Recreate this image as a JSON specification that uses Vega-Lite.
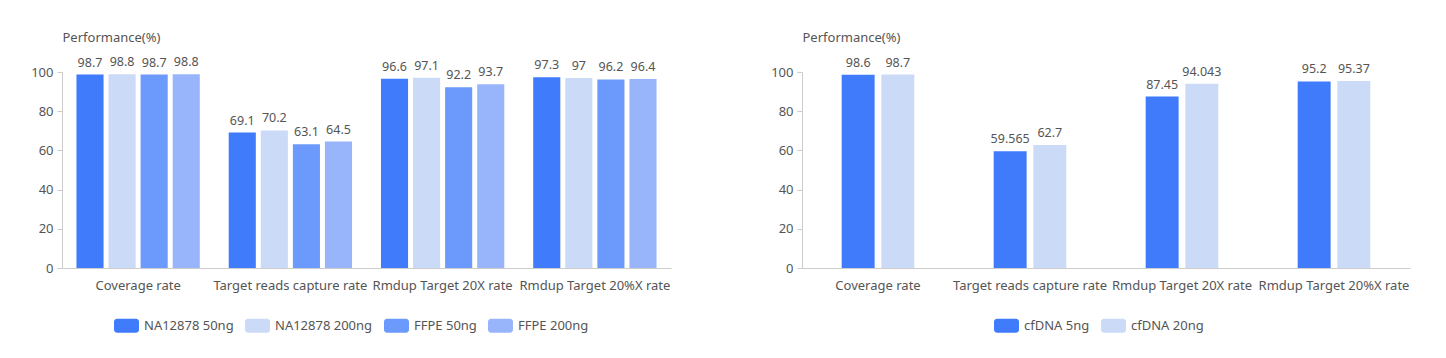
{
  "$schema": "https://vega.github.io/schema/vega-lite/v6.json",
  "background": "white",
  "padding": {"left": 30, "top": 31, "right": 5, "bottom": 5},
  "datasets": {
    "left": [
      {"metric": "Coverage rate", "sample": "NA12878 50ng", "value": 98.7},
      {"metric": "Coverage rate", "sample": "NA12878 200ng", "value": 98.8},
      {"metric": "Coverage rate", "sample": "FFPE 50ng", "value": 98.7},
      {"metric": "Coverage rate", "sample": "FFPE 200ng", "value": 98.8},
      {"metric": "Target reads capture rate", "sample": "NA12878 50ng", "value": 69.1},
      {"metric": "Target reads capture rate", "sample": "NA12878 200ng", "value": 70.2},
      {"metric": "Target reads capture rate", "sample": "FFPE 50ng", "value": 63.1},
      {"metric": "Target reads capture rate", "sample": "FFPE 200ng", "value": 64.5},
      {"metric": "Rmdup Target 20X rate", "sample": "NA12878 50ng", "value": 96.6},
      {"metric": "Rmdup Target 20X rate", "sample": "NA12878 200ng", "value": 97.1},
      {"metric": "Rmdup Target 20X rate", "sample": "FFPE 50ng", "value": 92.2},
      {"metric": "Rmdup Target 20X rate", "sample": "FFPE 200ng", "value": 93.7},
      {"metric": "Rmdup Target 20%X rate", "sample": "NA12878 50ng", "value": 97.3},
      {"metric": "Rmdup Target 20%X rate", "sample": "NA12878 200ng", "value": 97},
      {"metric": "Rmdup Target 20%X rate", "sample": "FFPE 50ng", "value": 96.2},
      {"metric": "Rmdup Target 20%X rate", "sample": "FFPE 200ng", "value": 96.4}
    ],
    "right": [
      {"metric": "Coverage rate", "sample": "cfDNA 5ng", "value": 98.6},
      {"metric": "Coverage rate", "sample": "cfDNA 20ng", "value": 98.7},
      {"metric": "Target reads capture rate", "sample": "cfDNA 5ng", "value": 59.565},
      {"metric": "Target reads capture rate", "sample": "cfDNA 20ng", "value": 62.7},
      {"metric": "Rmdup Target 20X rate", "sample": "cfDNA 5ng", "value": 87.45},
      {"metric": "Rmdup Target 20X rate", "sample": "cfDNA 20ng", "value": 94.043},
      {"metric": "Rmdup Target 20%X rate", "sample": "cfDNA 5ng", "value": 95.2},
      {"metric": "Rmdup Target 20%X rate", "sample": "cfDNA 20ng", "value": 95.37}
    ]
  },
  "config": {
    "font": "Noto Sans",
    "view": {"stroke": null},
    "axis": {"labelFont": "Noto Sans", "titleFont": "Noto Sans", "domainColor": "#cccccc", "tickColor": "#cccccc", "labelColor": "#555555", "titleColor": "#555555", "grid": false},
    "legend": {"labelFont": "Noto Sans", "labelFontSize": 13, "labelColor": "#555555", "padding": 0, "symbolStrokeWidth": 0, "labelOffset": 5, "columnPadding": 11,
      "symbolType": "M-0.76,-0.56H0.76A0.24,0.24 0 0 1 1,-0.32V0.32A0.24,0.24 0 0 1 0.76,0.56H-0.76A0.24,0.24 0 0 1 -1,0.32V-0.32A0.24,0.24 0 0 1 -0.76,-0.56Z",
      "symbolSize": 625}
  },
  "bounds": "flush",
  "spacing": 131,
  "resolve": {"scale": {"color": "independent", "x": "independent", "xOffset": "independent"}, "legend": {"color": "independent"}},
  "hconcat": [
    {
      "data": {"name": "left"},
      "width": 609,
      "height": 196,
      "encoding": {
        "x": {"field": "metric", "type": "nominal", "sort": null,
          "scale": {"paddingInner": 0.19, "paddingOuter": 0.095},
          "axis": {"title": null, "labelAngle": 0, "ticks": false, "labelFontSize": 13, "labelLimit": 0, "labelOverlap": false, "labelPadding": 11}},
        "xOffset": {"field": "sample", "type": "nominal", "sort": null, "scale": {"paddingInner": 0.155, "paddingOuter": 0}},
        "y": {"field": "value", "type": "quantitative",
          "scale": {"domain": [0, 100]},
          "axis": {"title": "Performance(%)", "titleAngle": 0, "titleAlign": "left", "titleBaseline": "middle", "titleX": 0, "titleY": -35, "titleFontSize": 13, "titleFontWeight": "normal",
            "values": [0, 20, 40, 60, 80, 100], "tickSize": 5, "labelPadding": 4, "labelFontSize": 13}}
      },
      "layer": [
        {"mark": {"type": "bar"},
          "encoding": {"color": {"field": "sample", "type": "nominal", "sort": null,
            "scale": {"domain": ["NA12878 50ng", "NA12878 200ng", "FFPE 50ng", "FFPE 200ng"], "range": ["#3F7BFB", "#CBDAF7", "#6C99FC", "#98B5FB"]},
            "legend": {"title": null, "orient": "none", "direction": "horizontal", "legendX": 52, "legendY": 241}}}},
        {"mark": {"type": "text", "baseline": "bottom", "dy": -5, "fontSize": 12.5, "color": "#555555"},
          "encoding": {"text": {"field": "value", "type": "nominal"}}}
      ]
    },
    {
      "data": {"name": "right"},
      "width": 608,
      "height": 196,
      "encoding": {
        "x": {"field": "metric", "type": "nominal", "sort": null,
          "scale": {"paddingInner": 0.522, "paddingOuter": 0.261},
          "axis": {"title": null, "labelAngle": 0, "ticks": false, "labelFontSize": 13, "labelLimit": 0, "labelOverlap": false, "labelPadding": 11}},
        "xOffset": {"field": "sample", "type": "nominal", "sort": null, "scale": {"paddingInner": 0.17, "paddingOuter": 0}},
        "y": {"field": "value", "type": "quantitative",
          "scale": {"domain": [0, 100]},
          "axis": {"title": "Performance(%)", "titleAngle": 0, "titleAlign": "left", "titleBaseline": "middle", "titleX": 0, "titleY": -35, "titleFontSize": 13, "titleFontWeight": "normal",
            "values": [0, 20, 40, 60, 80, 100], "tickSize": 5, "labelPadding": 4, "labelFontSize": 13}}
      },
      "layer": [
        {"mark": {"type": "bar"},
          "encoding": {"color": {"field": "sample", "type": "nominal", "sort": null,
            "scale": {"domain": ["cfDNA 5ng", "cfDNA 20ng"], "range": ["#3F7BFB", "#CBDAF7"]},
            "legend": {"title": null, "orient": "none", "direction": "horizontal", "legendX": 192, "legendY": 241}}}},
        {"mark": {"type": "text", "baseline": "bottom", "dy": -5, "fontSize": 12.5, "color": "#555555"},
          "encoding": {"text": {"field": "value", "type": "nominal"}}}
      ]
    }
  ]
}
